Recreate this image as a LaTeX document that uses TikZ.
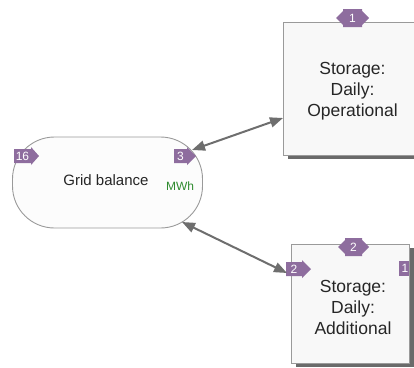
\documentclass[tikz,border=0pt]{standalone}
\usepackage{fontspec}
\setmainfont{Liberation Sans}
\usetikzlibrary{arrows.meta,shadows}

\definecolor{portfill}{HTML}{8E6D9E}
\definecolor{edgegray}{HTML}{9A9A9A}
\definecolor{linkgray}{HTML}{6E6E6E}
\definecolor{shadegray}{HTML}{6A6A6A}
\definecolor{boxfill}{HTML}{F8F8F8}
\definecolor{varfill}{HTML}{FCFCFC}
\definecolor{unitgreen}{HTML}{2E8B2E}

\tikzset{
  x=1pt, y=-1pt,
  varshape/.style={draw=edgegray, line width=0.9pt, fill=varfill, rounded corners=42pt, inner sep=0pt},
  stockbox/.style={draw=edgegray, line width=0.9pt, fill=boxfill, inner sep=0pt,
    drop shadow={shadow xshift=5pt, shadow yshift=-4pt, fill=shadegray, opacity=1}},
  boxlabel/.style={align=center, font=\fontsize{17.5}{21}\selectfont, text=black!85},
  portshape/.style={fill=portfill},
  portnum/.style={text=white, font=\fontsize{12}{13}\selectfont, inner sep=0pt},
  link/.style={draw=linkgray, line width=2pt,
    {Triangle[length=13pt,width=10pt]}-{Triangle[length=13pt,width=10pt]}},
}

\begin{document}
\begin{tikzpicture}
\useasboundingbox (0,0) rectangle (414,367);

% Variable: grid balance
\node[varshape, minimum width=190pt, minimum height=91pt] (grid) at (107.5,182.5) {};
\node[font=\fontsize{15}{18}\selectfont, text=black!85] (gridlabel) at (106,180) {Grid balance};
\node[font=\fontsize{12}{14}\selectfont, text=unitgreen] (gridunit) at (180,186) {MWh};

% Stocks
\node[stockbox, minimum width=138pt, minimum height=133pt] (oper) at (352,88.5) {};
\node[boxlabel] (operlabel) at (352.5,91) {Storage:\\Daily:\\Operational};
\node[stockbox, minimum width=118pt, minimum height=119pt] (addi) at (350,303.5) {};
\node[boxlabel] (addilabel) at (353,307) {Storage:\\Daily:\\Additional};

% Ports on the grid balance variable
\fill[portshape] (14,149) -- (31,149) -- (31,147) -- (39,156) -- (31,165) -- (31,163) -- (14,163) -- cycle;
\node[portnum] (p16) at (22.5,156) {16};
\fill[portshape] (174,149) -- (187,149) -- (187,147) -- (196,156) -- (187,165) -- (187,163) -- (174,163) -- cycle;
\node[portnum] (p3) at (180.5,156) {3};

% Ports on the operational stock
\fill[portshape] (336,18) -- (343,11) -- (343,9) -- (362,9) -- (362,11) -- (369,18) -- (362,25) -- (362,27) -- (343,27) -- (343,25) -- cycle;
\node[portnum] (p1top) at (352.5,18) {1};

% Ports on the additional stock
\fill[portshape] (338,247) -- (345,240) -- (345,238) -- (362,238) -- (362,240) -- (369,247) -- (362,254) -- (362,256) -- (345,256) -- (345,254) -- cycle;
\node[portnum] (p2top) at (353.5,247) {2};
\fill[portshape] (286,262) -- (302,262) -- (302,260) -- (311,269) -- (302,278) -- (302,276) -- (286,276) -- cycle;
\node[portnum] (p2in) at (294,269) {2};
\fill[portshape] (399,261) rectangle (409,276);
\node[portnum] (p1out) at (405,268.5) {1};

% Connector end points
\coordinate (operend) at (283,118);
\coordinate (gridtop) at (192,150);
\coordinate (gridlow) at (182,222);
\coordinate (addiend) at (287,273);

% Links
\draw[link] (gridtop) -- (operend);
\draw[link] (gridlow) -- (addiend);
\end{tikzpicture}
\end{document}
